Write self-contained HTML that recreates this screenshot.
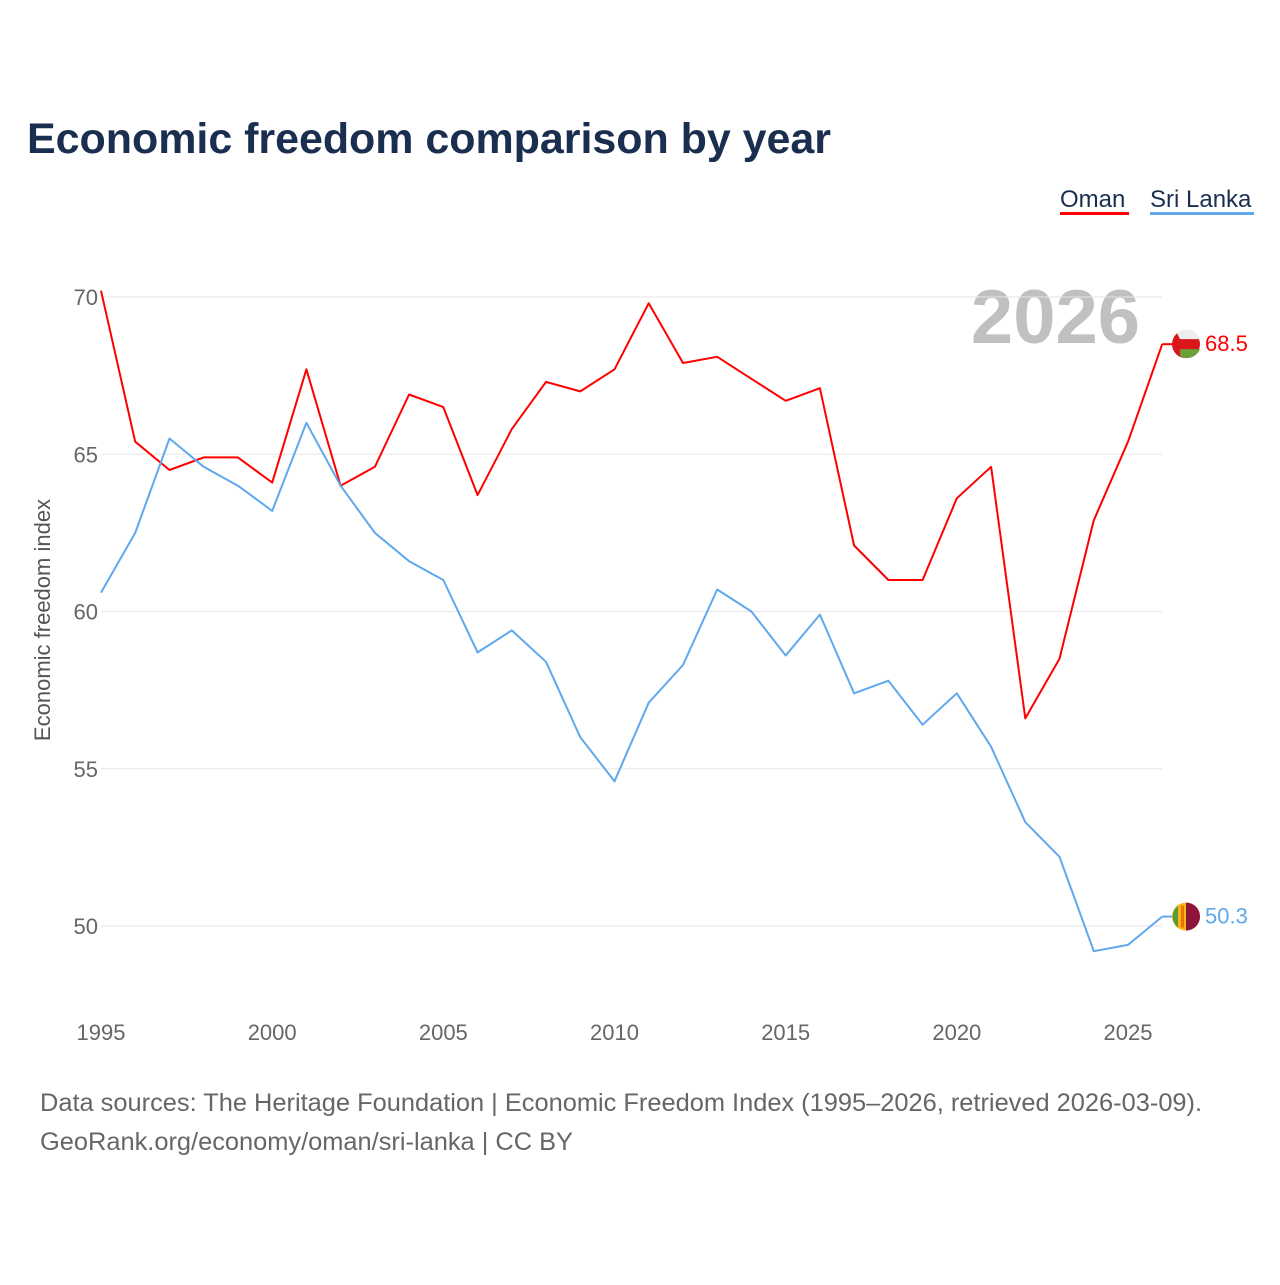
<!DOCTYPE html>
<html><head><meta charset="utf-8"><style>
body{margin:0;background:#fff;font-family:"Liberation Sans",sans-serif;}
svg text{font-family:"Liberation Sans",sans-serif;}
</style></head><body>
<svg id="chart" width="1280" height="1280" viewBox="0 0 1280 1280">
<text x="27" y="153" font-size="43" font-weight="bold" fill="#1a2e4f" textLength="804">Economic freedom comparison by year</text>
<g>
<text x="1060" y="207" font-size="24" fill="#1a2e4f">Oman</text>
<rect x="1060" y="212" width="69" height="3" fill="#ff0000"/>
<text x="1150" y="207" font-size="24" fill="#1a2e4f">Sri Lanka</text>
<rect x="1150" y="212" width="104" height="3" fill="#5fa8ee"/>
</g>
<text x="1140" y="343" font-size="76" font-weight="bold" fill="#c0c0c0" text-anchor="end">2026</text>
<g id="grid"></g>
<g id="xaxis"></g>
<g id="yaxis"></g>
<text transform="translate(50,620) rotate(-90)" font-size="22" fill="#555" text-anchor="middle">Economic freedom index</text>
<g id="series"></g>
<text x="40" y="1111" font-size="25.4" fill="#666">Data sources: The Heritage Foundation | Economic Freedom Index (1995–2026, retrieved 2026-03-09).</text>
<text x="40" y="1150" font-size="25.4" fill="#666">GeoRank.org/economy/oman/sri-lanka | CC BY</text>
</svg>
<script>
const years=[1995,1996,1997,1998,1999,2000,2001,2002,2003,2004,2005,2006,2007,2008,2009,2010,2011,2012,2013,2014,2015,2016,2017,2018,2019,2020,2021,2022,2023,2024,2025,2026];
const oman=[70.2,65.4,64.5,64.9,64.9,64.1,67.7,64.0,64.6,66.9,66.5,63.7,65.8,67.3,67.0,67.7,69.8,67.9,68.1,67.4,66.7,67.1,62.1,61.0,61.0,63.6,64.6,56.6,58.5,62.9,65.4,68.5];
const sriLanka=[60.6,62.5,65.5,64.6,64.0,63.2,66.0,64.0,62.5,61.6,61.0,58.7,59.4,58.4,56.0,54.6,57.1,58.3,60.7,60.0,58.6,59.9,57.4,57.8,56.4,57.4,55.7,53.3,52.2,49.2,49.4,50.3];
const yTicks=[50,55,60,65,70];
const xTicks=[1995,2000,2005,2010,2015,2020,2025];
const NS="http://www.w3.org/2000/svg";
const X=y=>101+(y-1995)*(1128-101)/30;
const Y=v=>926-(v-50)*(926-297)/20;
function mk(t,a,p){const e=document.createElementNS(NS,t);for(const k in a)e.setAttribute(k,a[k]);p.appendChild(e);return e;}
const grid=document.getElementById('grid'),xa=document.getElementById('xaxis'),ya=document.getElementById('yaxis'),ser=document.getElementById('series');
yTicks.forEach(v=>{
 const l=mk('line',{x1:101,x2:1162,y1:Y(v),y2:Y(v),stroke:'#e6e6e6','stroke-width':1},grid);
 
 
 const t=mk('text',{x:98,y:Y(v)+8,'font-size':22,fill:'#666','text-anchor':'end'},ya);
 t.textContent=v;
 
 
});
xTicks.forEach(v=>{
 const t=mk('text',{x:X(v),y:1040,'font-size':22,fill:'#666','text-anchor':'middle'},xa);
 t.textContent=v;
 
 
});
function line(vals,color,name){
 const d=vals.map((v,i)=>(i?'L':'M')+X(years[i]).toFixed(1)+','+Y(v).toFixed(1)).join(' ');
 const p=mk('path',{d:d,fill:'none',stroke:color,'stroke-width':2,'stroke-linejoin':'round'},ser);
 
 
 const last=vals[vals.length-1],lx=X(years[years.length-1]),ly=Y(last);
 const c=mk('line',{x1:lx,x2:1172,y1:ly,y2:ly,stroke:color,'stroke-width':2},ser);
 
 
 return {ly:ly,last:last};
}
const o=line(oman,'#ff0000','oman');
const s=line(sriLanka,'#5fa8ee','sri-lanka');
const fo=document.createElementNS(NS,'g');ser.appendChild(fo);


mk('circle',{cx:1186,cy:o.ly,r:14,fill:'#db161b'},fo);
mk('path',{d:`M1177,${o.ly-11} A14,14 0 0 1 1200,${o.ly-5} L1180,${o.ly-5} Z`,fill:'#eee'},fo);
mk('path',{d:`M1180,${o.ly+5} L1200,${o.ly+5} A14,14 0 0 1 1180,${o.ly+12} Z`,fill:'#6aa038'},fo);
const to=mk('text',{x:1205,y:o.ly+7,'font-size':22,fill:'#ff0000'},ser);to.textContent=o.last.toFixed(1);


const fs=document.createElementNS(NS,'g');ser.appendChild(fs);


mk('circle',{cx:1186,cy:s.ly,r:14,fill:'#f7b718'},fs);
mk('path',{d:`M1178,${s.ly-11} A14,14 0 0 0 1178,${s.ly+11} Z`,fill:'#5a9a3a'},fs);
mk('path',{d:`M1186,${s.ly-14} A14,14 0 0 1 1186,${s.ly+14} Z`,fill:'#8d153a'},fs);
mk('rect',{x:1181,y:s.ly-11,width:3,height:22,fill:'#eb7400'},fs);
const ts=mk('text',{x:1205,y:s.ly+7,'font-size':22,fill:'#5fa8ee'},ser);ts.textContent=s.last.toFixed(1);


</script>
</body></html>
